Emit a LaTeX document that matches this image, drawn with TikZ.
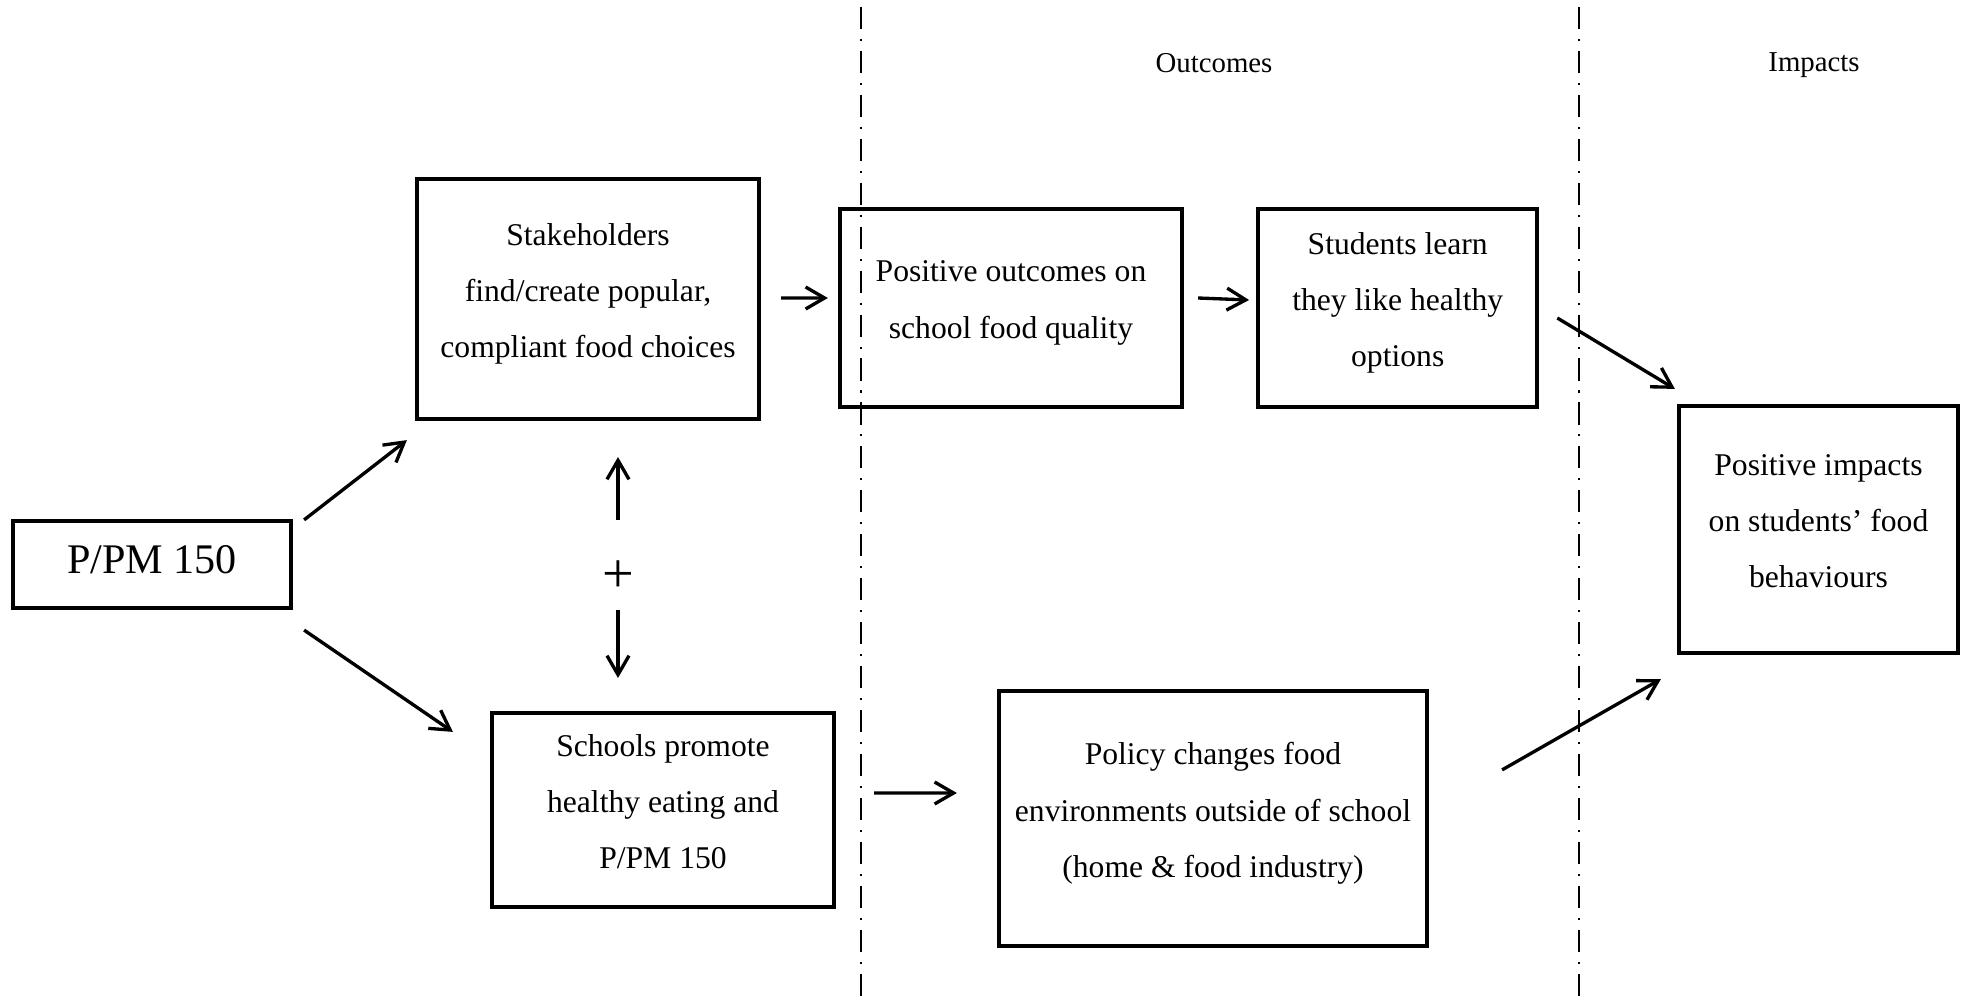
\documentclass[tikz,border=0pt]{standalone}
\usepackage{fontspec}
\setmainfont{Liberation Serif}
\usetikzlibrary{arrows.meta}
\usetikzlibrary{positioning}

\begin{document}
\begin{tikzpicture}[
box/.style={rectangle, draw=black, fill=none, very thick, align=center, inner sep=0pt, text depth=4.8pt, font=\fontsize{9}{16}\selectfont},
arr/.style={line width=0.95pt, -{Straight Barb[length=1.9mm,width=2.2mm]}},
divider/.style={line width=0.5pt, dash pattern=on 6.3pt off 2.8pt on 0.6pt off 2.8pt},
heading/.style={anchor=base, font=\fontsize{8.2}{10}\selectfont},
]
\useasboundingbox (0,0) rectangle (19.71,-10.02);
\draw[divider] (8.61,-0.07) -- (8.61,-10.02);
\draw[divider] (15.79,-0.07) -- (15.79,-10.02);
\node[heading](outhead) at (12.14,-0.73){Outcomes};
\node[heading](imphead) at (18.14,-0.72){Impacts};
\node[box, minimum width=2.78cm, minimum height=0.87cm, text depth=2.8pt, font=\fontsize{12}{14}\selectfont](ppm) at (1.52,-5.645){P/PM 150};
\node[box, minimum width=3.42cm, minimum height=2.40cm](stake) at (5.88,-2.99){Stakeholders\\find/create popular,\\compliant food choices};
\node[box, minimum width=3.42cm, minimum height=1.98cm](outc) at (10.11,-3.08){Positive outcomes on\\school food quality};
\node[box, minimum width=2.79cm, minimum height=1.98cm](stud)[right=0.72cm of outc]{Students learn\\they like healthy\\options};
\node[box, minimum width=2.79cm, minimum height=2.47cm](imp) at (18.185,-5.295){Positive impacts\\on students' food\\behaviours};
\node[box, minimum width=3.42cm, minimum height=1.94cm](school) at (6.63,-8.10){Schools promote\\healthy eating and\\P/PM 150};
\node[box, minimum width=4.28cm, minimum height=2.55cm](policy) at (12.13,-8.185){Policy changes food\\environments outside of school\\(home \& food industry)};
\node[inner sep=0pt, font=\fontsize{16}{16}\selectfont](plus) at (6.18,-5.77){+};
\draw[arr] ([shift={(0.11,-0.01)}]ppm.north east) -- ([shift={(-0.08,-0.19)}]stake.south west);
\draw[arr] ([shift={(0.11,-0.20)}]ppm.south east) -- ([shift={(-0.37,-0.21)}]school.north west);
\draw[arr] ([shift={(0.20,0.01)}]stake.east) -- ([shift={(-0.10,0.10)}]outc.west);
\draw[arr] ([shift={(0.14,0.10)}]outc.east) -- ([shift={(-0.07,0.08)}]stud.west);
\draw[arr] ([shift={(0.18,-0.10)}]stud.east) -- ([shift={(-0.02,0.15)}]imp.north west);
\draw[arr] ([shift={(0.38,0.17)}]school.east) -- ([shift={(-0.40,0.255)}]policy.west);
\draw[arr] ([shift={(0.73,-0.81)}]policy.north east) -- ([shift={(-0.16,-0.24)}]imp.south west);
\draw[arr] ([yshift=0.57cm]plus.center) -- ([yshift=1.20cm]plus.center);
\draw[arr] ([yshift=-0.33cm]plus.center) -- ([yshift=-1.01cm]plus.center);
\end{tikzpicture}
\end{document}
